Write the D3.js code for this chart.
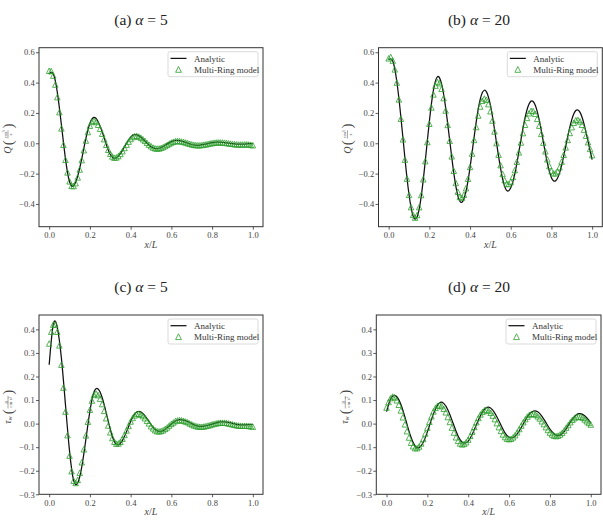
<!DOCTYPE html>
<html><head><meta charset="utf-8">
<script src="https://cdn.jsdelivr.net/npm/d3@7"></script>
<style>
body{margin:0;background:#fff}
svg{display:block}
text{font-family:"Liberation Serif","DejaVu Serif",serif}
</style>
</head><body>
<svg id="chart" width="603" height="532"></svg>
<script>
// ---------- data ----------
const xLine = [0,0.02,0.04,0.06,0.08,0.10,0.12,0.14,0.16,0.18,0.20,0.22,0.24,0.26,0.28,0.30,0.32,0.34,0.36,0.38,0.40,0.42,0.44,0.46,0.48,0.50,0.52,0.54,0.56,0.58,0.60,0.62,0.64,0.66,0.68,0.70,0.72,0.74,0.76,0.78,0.80,0.82,0.84,0.86,0.88,0.90,0.92,0.94,0.96,0.98,1.00];
const xMarkers = [0,0.01,0.02,0.03,0.04,0.05,0.06,0.07,0.08,0.09,0.10,0.11,0.12,0.13,0.14,0.15,0.16,0.17,0.18,0.19,0.20,0.21,0.22,0.23,0.24,0.25,0.26,0.27,0.28,0.29,0.30,0.31,0.32,0.33,0.34,0.35,0.36,0.37,0.38,0.39,0.40,0.41,0.42,0.43,0.44,0.45,0.46,0.47,0.48,0.49,0.50,0.51,0.52,0.53,0.54,0.55,0.56,0.57,0.58,0.59,0.60,0.61,0.62,0.63,0.64,0.65,0.66,0.67,0.68,0.69,0.70,0.71,0.72,0.73,0.74,0.75,0.76,0.77,0.78,0.79,0.80,0.81,0.82,0.83,0.84,0.85,0.86,0.87,0.88,0.89,0.90,0.91,0.92,0.93,0.94,0.95,0.96,0.97,0.98,0.99,1.00];

// (a) Q, alpha = 5
const qAnalyticA = [0.457,0.458,0.336,0.122,-0.103,-0.254,-0.280,-0.217,-0.101,0.030,0.132,0.170,0.144,0.077,-0.007,-0.074,-0.100,-0.085,-0.047,0.001,0.041,0.057,0.050,0.028,0.001,-0.023,-0.035,-0.033,-0.021,-0.004,0.011,0.019,0.018,0.011,0.001,-0.008,-0.013,-0.012,-0.008,-0.002,0.004,0.007,0.008,0.005,0.001,-0.003,-0.006,-0.006,-0.005,-0.003,-0.002];
const qModelA = [0.478,0.476,0.446,0.387,0.304,0.205,0.098,-0.010,-0.109,-0.192,
 -0.251,-0.281,-0.282,-0.263,-0.225,-0.173,-0.111,-0.046,0.018,0.074,
 0.116,0.141,0.148,0.140,0.122,0.096,0.063,0.027,-0.010,-0.043,
 -0.069,-0.087,-0.095,-0.093,-0.084,-0.070,-0.052,-0.031,-0.009,0.011,
 0.028,0.041,0.047,0.048,0.044,0.037,0.027,0.016,0.003,-0.009,
 -0.019,-0.028,-0.033,-0.035,-0.034,-0.030,-0.025,-0.018,-0.010,-0.002,
 0.005,0.010,0.014,0.015,0.014,0.012,0.009,0.005,0.001,-0.003,
 -0.007,-0.010,-0.012,-0.013,-0.013,-0.011,-0.009,-0.007,-0.004,-0.001,
 0.001,0.004,0.005,0.006,0.006,0.005,0.004,0.002,0.000,-0.002,
 -0.004,-0.006,-0.007,-0.008,-0.008,-0.008,-0.007,-0.007,-0.008,-0.010,
 -0.013];

// (b) Q, alpha = 20
const qAnalyticB = [0.550,0.542,0.407,0.173,-0.100,-0.338,-0.479,-0.485,-0.350,-0.116,0.145,0.351,0.439,0.391,0.235,0.019,-0.195,-0.346,-0.389,-0.318,-0.159,0.041,0.223,0.333,0.340,0.251,0.094,-0.085,-0.234,-0.311,-0.294,-0.201,-0.057,0.098,0.221,0.278,0.253,0.154,0.011,-0.130,-0.227,-0.248,-0.195,-0.086,0.044,0.156,0.216,0.205,0.128,0.011,-0.108];
const qModelB = [0.560,0.569,0.545,0.487,0.400,0.289,0.162,0.026,-0.108,-0.233,
 -0.340,-0.421,-0.472,-0.490,-0.473,-0.421,-0.341,-0.237,-0.118,0.008,
 0.129,0.236,0.322,0.380,0.404,0.396,0.359,0.298,0.216,0.121,
 0.017,-0.086,-0.181,-0.261,-0.319,-0.353,-0.359,-0.339,-0.296,-0.234,
 -0.156,-0.068,0.022,0.107,0.183,0.242,0.280,0.295,0.287,0.258,
 0.211,0.150,0.078,0.001,-0.075,-0.144,-0.202,-0.243,-0.266,-0.269,
 -0.253,-0.222,-0.177,-0.122,-0.060,0.005,0.067,0.122,0.167,0.198,
 0.214,0.212,0.194,0.161,0.116,0.062,0.004,-0.053,-0.106,-0.150,
 -0.182,-0.198,-0.198,-0.185,-0.158,-0.121,-0.076,-0.027,0.022,0.068,
 0.106,0.135,0.152,0.154,0.144,0.122,0.090,0.050,0.007,-0.037,
 -0.078];

// (c) tau_w, alpha = 5
const tauAnalyticC = [0.250,0.420,0.407,0.278,0.080,-0.117,-0.241,-0.252,-0.184,-0.068,0.053,0.134,0.147,0.111,0.046,-0.024,-0.076,-0.090,-0.071,-0.034,0.009,0.041,0.052,0.043,0.022,-0.004,-0.025,-0.033,-0.029,-0.017,-0.002,0.011,0.017,0.015,0.009,0.000,-0.008,-0.012,-0.011,-0.007,-0.002,0.003,0.007,0.007,0.005,0.001,-0.003,-0.005,-0.005,-0.004,-0.003];
const tauModelC = [0.340,0.390,0.420,0.421,0.390,0.332,0.250,0.153,0.051,-0.049,
 -0.136,-0.202,-0.242,-0.252,-0.239,-0.209,-0.164,-0.109,-0.050,0.008,
 0.059,0.098,0.122,0.128,0.121,0.106,0.083,0.054,0.023,-0.008,
 -0.037,-0.061,-0.077,-0.085,-0.084,-0.077,-0.064,-0.048,-0.029,-0.010,
 0.009,0.024,0.035,0.041,0.042,0.038,0.032,0.023,0.012,0.001,
 -0.011,-0.020,-0.028,-0.032,-0.033,-0.031,-0.028,-0.022,-0.016,-0.008,
 -0.001,0.005,0.011,0.014,0.015,0.014,0.012,0.009,0.006,0.001,
 -0.003,-0.007,-0.010,-0.012,-0.013,-0.013,-0.012,-0.010,-0.008,-0.006,
 -0.003,-0.001,0.001,0.003,0.004,0.004,0.004,0.003,0.001,-0.001,
 -0.003,-0.005,-0.007,-0.008,-0.009,-0.009,-0.009,-0.009,-0.010,-0.011,
 -0.013];

// (d) tau_w, alpha = 20
const tauAnalyticD = [0.051,0.105,0.120,0.102,0.057,-0.002,-0.058,-0.095,-0.102,-0.079,-0.035,0.018,0.063,0.089,0.086,0.059,0.016,-0.031,-0.068,-0.083,-0.074,-0.045,-0.005,0.034,0.062,0.070,0.057,0.029,-0.006,-0.039,-0.058,-0.059,-0.044,-0.016,0.015,0.041,0.053,0.050,0.032,0.005,-0.023,-0.043,-0.051,-0.043,-0.021,0.006,0.030,0.042,0.039,0.025,0.003];
const tauModelD = [0.068,0.092,0.108,0.115,0.111,0.099,0.080,0.056,0.027,-0.003,
 -0.032,-0.059,-0.081,-0.096,-0.104,-0.104,-0.097,-0.084,-0.065,-0.042,
 -0.017,0.008,0.031,0.052,0.067,0.076,0.078,0.074,0.063,0.048,
 0.028,0.007,-0.017,-0.038,-0.058,-0.073,-0.084,-0.088,-0.086,-0.079,
 -0.068,-0.052,-0.034,-0.014,0.006,0.024,0.039,0.050,0.057,0.058,
 0.054,0.046,0.034,0.019,0.002,-0.015,-0.031,-0.046,-0.057,-0.064,
 -0.066,-0.064,-0.058,-0.049,-0.037,-0.023,-0.008,0.006,0.019,0.030,
 0.038,0.042,0.042,0.038,0.031,0.022,0.010,-0.002,-0.015,-0.027,
 -0.038,-0.046,-0.051,-0.053,-0.051,-0.046,-0.039,-0.029,-0.017,-0.006,
 0.006,0.016,0.023,0.028,0.030,0.029,0.025,0.018,0.010,0.003,
 -0.004];

const xTicks = [0.0,0.2,0.4,0.6,0.8,1.0];
const qTicks = [-0.4,-0.2,0.0,0.2,0.4,0.6];
const tauTicks = [-0.3,-0.2,-0.1,0.0,0.1,0.2,0.3,0.4];
const panelLetters = ["(a)","(b)","(c)","(d)"];
const alphaValues = ["5","20","5","20"];
const legendLabels = ["Analytic","Multi-Ring model"];
const xDomain = [-0.05,1.05];
const qDomain = [-0.55,0.63];
const tauDomain = [-0.3,0.461];

// ---------- drawing ----------
const svg = d3.select("#chart");
const GREEN = "#2ca02c";
const INK = "#333";
const FONT = "'Liberation Serif','DejaVu Serif',serif";

const panels = [
  {analytic:qAnalyticA, model:qModelA, ticks:qTicks, dom:qDomain, kind:"Q",   box:[39,263,47.7,226.7],  title:[141,25]},
  {analytic:qAnalyticB, model:qModelB, ticks:qTicks, dom:qDomain, kind:"Q",   box:[378.5,602.3,47.7,226.7], title:[479,25]},
  {analytic:tauAnalyticC, model:tauModelC, ticks:tauTicks, dom:tauDomain, kind:"tau", box:[39,263,315,494.3], title:[141,292]},
  {analytic:tauAnalyticD, model:tauModelD, ticks:tauTicks, dom:tauDomain, kind:"tau", box:[376.3,601,315,494.3], title:[479,292]}
];

function trianglePath(s){
  const h = s/2;
  return `M0,${-h}L${h},${h}L${-h},${h}Z`;
}

panels.forEach((p,i)=>{
  const [x0,x1,y0,y1] = p.box;
  const g = svg.append("g");
  const x = d3.scaleLinear().domain(xDomain).range([x0,x1]);
  const y = d3.scaleLinear().domain(p.dom).range([y1,y0]);

  // title
  const t = svg.append("text").attr("x",p.title[0]).attr("y",p.title[1])
    .attr("text-anchor","middle").attr("font-size",15.5).attr("fill","#222");
  t.append("tspan").text(panelLetters[i]+" ");
  t.append("tspan").attr("font-style","italic").text("α");
  t.append("tspan").text(" = "+alphaValues[i]);

  // analytic line
  const line = d3.line().x((d,k)=>x(xLine[k])).y(d=>y(d)).curve(d3.curveNatural);
  g.append("path").datum(p.analytic).attr("d",line)
    .attr("fill","none").attr("stroke","#111").attr("stroke-width",1.25);

  // model markers
  g.append("g").selectAll("path").data(p.model).join("path")
    .attr("transform",(d,k)=>`translate(${x(xMarkers[k])},${y(d)})`)
    .attr("d",trianglePath(5.5))
    .attr("fill","none").attr("stroke",GREEN).attr("stroke-width",0.8);

  // axes
  const fmt = d3.format(".1f");
  const xa = g.append("g").attr("transform",`translate(0,${y1})`)
    .call(d3.axisBottom(x).tickValues(xTicks).tickFormat(fmt).tickSize(3).tickPadding(2.4));
  const ya = g.append("g").attr("transform",`translate(${x0},0)`)
    .call(d3.axisLeft(y).tickValues(p.ticks).tickFormat(fmt).tickSize(3).tickPadding(1.3));
  [xa,ya].forEach(a=>{
    a.select(".domain").remove();
    a.selectAll(".tick line").attr("stroke",INK).attr("stroke-width",0.8);
    a.selectAll(".tick text").attr("fill","#444").attr("font-size",8.5)
      .attr("font-family",FONT);
  });

  // frame
  g.append("rect").attr("x",x0).attr("y",y0).attr("width",x1-x0).attr("height",y1-y0)
    .attr("fill","none").attr("stroke",INK).attr("stroke-width",1);

  // x label
  const xl = g.append("text").attr("x",(x0+x1)/2).attr("y",y1+21)
    .attr("text-anchor","middle").attr("font-size",10).attr("fill","#444");
  xl.append("tspan").attr("font-style","italic").text("x");
  xl.append("tspan").text("/");
  xl.append("tspan").attr("font-style","italic").text("L");

  // y label
  const yl = g.append("g").attr("transform",`translate(${x0-31},${(y0+y1)/2}) rotate(-90)`)
    .attr("fill","#444");
  if(p.kind==="Q"){
    yl.append("text").attr("x",-13).attr("y",3.3).attr("text-anchor","middle")
      .attr("font-size",10).attr("font-style","italic").text("Q");
    yl.append("text").attr("x",-5.5).attr("y",4.8).attr("text-anchor","middle").attr("font-size",15).text("(");
    const num = yl.append("text").attr("x",2.8).attr("y",-1.5).attr("text-anchor","middle").attr("font-size",5);
    num.append("tspan").text("cm");
    num.append("tspan").attr("font-size",3.6).attr("dy",-1.4).text("3");
    yl.append("line").attr("x1",-1.2).attr("x2",7).attr("y1",0).attr("y2",0).attr("stroke","#444").attr("stroke-width",0.45);
    yl.append("text").attr("x",2.8).attr("y",4.3).attr("text-anchor","middle").attr("font-size",5).attr("font-style","italic").text("s");
    yl.append("text").attr("x",11.2).attr("y",4.8).attr("text-anchor","middle").attr("font-size",15).text(")");
  } else {
    const tw = yl.append("text").attr("x",-15.5).attr("y",2.5).attr("text-anchor","middle")
      .attr("font-size",9.5).attr("font-style","italic");
    tw.append("tspan").text("τ");
    tw.append("tspan").attr("font-size",6).attr("dy",1.6).text("w");
    yl.append("text").attr("x",-7).attr("y",4.8).attr("text-anchor","middle").attr("font-size",15).text("(");
    yl.append("text").attr("x",2.5).attr("y",-1.5).attr("text-anchor","middle").attr("font-size",5).attr("font-style","italic").text("g");
    yl.append("line").attr("x1",-3.8).attr("x2",8.8).attr("y1",0).attr("y2",0).attr("stroke","#444").attr("stroke-width",0.45);
    const den = yl.append("text").attr("x",2.5).attr("y",4.4).attr("text-anchor","middle").attr("font-size",5);
    den.append("tspan").text("cm s");
    den.append("tspan").attr("font-size",3.6).attr("dy",-1.4).text("2");
    yl.append("text").attr("x",12.3).attr("y",4.8).attr("text-anchor","middle").attr("font-size",15).text(")");
  }

  // legend
  const bw = 90, bh = 25;
  const bx = x1 - 5 - bw, by = y0 + 4;
  const lg = g.append("g");
  lg.append("rect").attr("x",bx).attr("y",by).attr("width",bw).attr("height",bh).attr("rx",2)
    .attr("fill","#fff").attr("fill-opacity",0.85).attr("stroke","#d0d0d0").attr("stroke-width",0.8);
  const r1 = by + 6.7, r2 = by + 17.7;
  lg.append("line").attr("x1",bx+2.5).attr("x2",bx+18.5).attr("y1",r1).attr("y2",r1)
    .attr("stroke","#111").attr("stroke-width",1.25);
  lg.append("path").attr("transform",`translate(${bx+10.5},${r2})`).attr("d",trianglePath(5.8))
    .attr("fill","none").attr("stroke",GREEN).attr("stroke-width",0.8);
  [r1,r2].forEach((ry,k)=>{
    lg.append("text").attr("x",bx+26).attr("y",ry).attr("dy","0.35em")
      .attr("font-size",9).attr("fill","#333").text(legendLabels[k]);
  });
});
</script>
</body></html>
